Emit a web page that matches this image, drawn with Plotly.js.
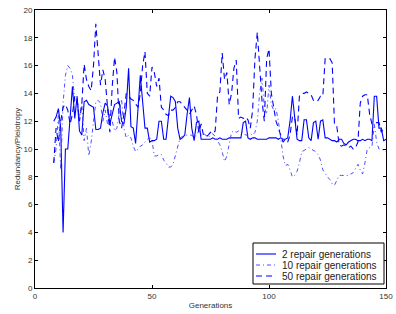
<!DOCTYPE html>
<html>
<head>
<meta charset="utf-8">
<script src="https://cdn.plot.ly/plotly-3.0.1.min.js"></script>
<style>html,body{margin:0;padding:0;background:#fff;}#chart{width:396px;height:314px;}</style>
</head>
<body>
<div id="chart"></div>
<script>
const generations = [];
for (let g = 8; g <= 150; g++) generations.push(g);

const repair2 = [12.0,12.3,12.9,11.5,4.0,10.0,10.0,12.2,14.5,12.2,13.8,11.3,11.0,13.4,13.5,13.2,13.1,13.0,11.4,11.4,11.5,12.6,13.3,13.1,11.8,12.6,13.2,13.3,13.4,12.0,11.8,13.0,15.8,11.6,11.5,10.4,13.3,15.3,13.4,11.5,11.5,10.5,10.6,10.6,10.7,12.0,12.0,10.7,10.7,12.2,13.8,13.7,13.4,11.5,10.7,10.8,11.0,12.5,13.7,11.5,10.6,11.9,12.0,10.7,10.7,10.7,10.7,10.7,10.8,10.7,10.7,10.8,10.7,10.7,10.7,10.8,10.8,10.8,10.8,10.8,10.8,11.9,12.0,10.8,10.7,10.8,10.8,10.7,10.7,10.7,10.7,10.7,10.8,10.8,10.8,10.8,10.7,10.8,10.7,10.7,10.8,12.0,13.8,12.0,10.7,10.6,10.6,12.1,12.1,10.8,10.6,11.9,12.0,10.7,12.0,12.1,10.8,10.8,10.7,10.6,10.6,10.5,10.7,10.7,10.4,10.3,10.5,10.6,10.7,10.7,10.6,10.6,10.7,10.6,10.7,10.7,10.6,13.8,13.8,11.5,11.5,10.6,10.7];

const repair10 = [9.0,10.0,12.5,8.5,13.3,15.3,16.0,15.8,15.3,13.5,13.6,12.2,13.3,10.6,11.5,9.5,10.5,12.0,13.4,13.5,13.3,12.0,12.8,11.8,12.5,12.0,11.3,11.5,12.5,13.6,11.5,10.8,11.0,10.8,10.2,9.8,10.0,10.2,10.3,10.5,10.7,10.8,10.6,9.5,9.5,9.6,9.6,9.2,9.0,8.7,8.7,8.9,9.6,10.2,10.8,10.9,11.0,11.0,11.0,11.0,10.8,11.0,11.3,11.0,11.1,11.0,10.8,11.0,11.1,10.9,10.6,10.3,9.8,9.1,9.5,10.5,11.2,11.3,11.2,11.3,11.3,11.2,11.0,11.0,11.1,11.0,11.2,12.0,14.0,15.1,13.0,12.5,14.6,13.2,12.8,12.9,12.0,10.8,9.5,8.8,8.9,8.5,8.0,8.1,8.4,9.0,9.8,9.9,10.0,10.1,10.0,9.9,9.8,9.6,9.2,8.5,8.2,8.0,7.8,7.5,7.4,7.8,8.1,8.1,8.1,8.1,8.1,8.2,8.3,8.6,8.9,8.5,8.2,9.0,10.0,10.1,10.2,11.8,10.5,10.0,10.0,9.9,9.8];

const repair50 = [9.0,11.5,10.5,12.0,13.0,13.2,12.8,11.8,12.5,13.8,13.6,12.0,13.2,16.1,15.0,14.5,14.2,16.0,19.0,17.0,14.6,15.7,15.0,13.0,11.2,14.5,16.6,15.5,12.0,11.5,12.5,14.0,13.8,13.6,13.5,13.2,13.0,14.0,16.0,17.0,14.0,13.8,15.9,15.5,14.5,15.1,13.0,12.8,12.5,12.4,12.8,12.8,13.0,13.4,13.4,13.2,13.0,12.8,12.5,12.8,13.1,12.5,11.2,11.8,11.0,10.9,11.0,11.2,11.1,11.3,13.8,14.1,16.9,15.0,15.5,13.2,14.0,15.8,16.4,12.2,12.3,12.2,12.3,12.1,11.5,12.8,16.5,18.4,16.0,13.5,12.0,16.5,17.2,14.0,13.0,12.0,11.5,11.0,10.5,10.7,10.5,11.0,12.3,12.3,11.0,13.8,14.0,14.0,14.1,14.0,13.9,13.5,13.4,13.5,13.8,13.8,16.5,16.5,16.5,16.2,11.7,11.6,10.3,10.2,10.3,10.2,10.1,10.2,10.0,10.1,10.5,13.3,13.8,13.9,13.9,12.5,11.8,11.8,11.9,11.9,11.2,11.5,11.5];

const seriesNames = ['2 repair generations', '10 repair generations', '50 repair generations'];
const xTicks = [0, 50, 100, 150];
const yTicks = [0, 2, 4, 6, 8, 10, 12, 14, 16, 18, 20];

const blue = '#0000ff';
const lineStyles = [
  {color: blue, width: 1.1, dash: 'solid'},
  {color: '#3a3aff', width: 0.9, dash: '4px,3px,1px,3px'},
  {color: blue, width: 1.1, dash: '6px,4px'}
];
const seriesData = [repair2, repair10, repair50];
const traces = seriesData.map((ys, i) => ({
  x: generations, y: ys, name: seriesNames[i], mode: 'lines',
  line: lineStyles[i], showlegend: false
}));

// plot area in pixels: left 35, right 386, top 10, bottom 288
const M = {l: 35, r: 10, t: 10, b: 26};
const W = 396, H = 314;
const pw = W - M.l - M.r, ph = H - M.t - M.b;
const px = v => (v - M.l) / pw;
const py = v => (H - M.b - v) / ph;

const shapes = [{
  type: 'rect', xref: 'paper', yref: 'paper',
  x0: px(253), x1: px(384), y0: py(284), y1: py(243),
  line: {color: '#000', width: 1}, fillcolor: '#fff', layer: 'above'
}];
const annotations = [];
const rowY = [254, 265, 276];
seriesNames.forEach((nm, i) => {
  shapes.push({
    type: 'line', xref: 'paper', yref: 'paper',
    x0: px(256), x1: px(276), y0: py(rowY[i]), y1: py(rowY[i]),
    line: {color: lineStyles[i].color, width: lineStyles[i].width, dash: lineStyles[i].dash},
    layer: 'above'
  });
  annotations.push({
    xref: 'paper', yref: 'paper', x: px(280), y: py(rowY[i]),
    xanchor: 'left', yanchor: 'middle', showarrow: false, text: nm,
    font: {family: 'Liberation Sans, Arial, sans-serif', size: 10, color: '#222'}
  });
});

const axisFont = {family: 'Liberation Sans, Arial, sans-serif', size: 8, color: '#333'};
const layout = {
  width: W, height: H,
  margin: {l: M.l, r: M.r, t: M.t, b: M.b, pad: 0},
  paper_bgcolor: '#fff', plot_bgcolor: '#fff',
  showlegend: false,
  shapes: shapes, annotations: annotations,
  xaxis: {
    range: [0, 150], tickvals: xTicks, ticktext: xTicks.map(String),
    ticks: 'inside', ticklen: 3, tickcolor: '#000', mirror: 'ticks',
    showline: true, linecolor: '#000', linewidth: 1, showgrid: false, zeroline: false,
    tickfont: axisFont,
    title: {text: 'Generations', font: axisFont, standoff: 2}
  },
  yaxis: {
    range: [0, 20], tickvals: yTicks, ticktext: yTicks.map(String),
    ticks: 'inside', ticklen: 3, tickcolor: '#000', mirror: 'ticks',
    showline: true, linecolor: '#000', linewidth: 1, showgrid: false, zeroline: false,
    tickfont: axisFont,
    title: {text: 'Redundancy/Pleiotropy', font: axisFont, standoff: 1}
  }
};
Plotly.newPlot('chart', traces, layout, {displayModeBar: false, staticPlot: true});
</script>
</body>
</html>
